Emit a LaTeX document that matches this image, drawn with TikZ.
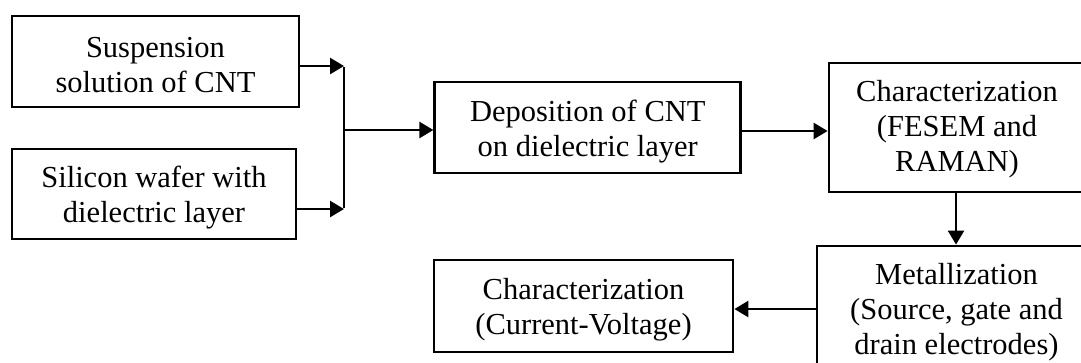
\documentclass[tikz,border=0pt]{standalone}
\usepackage{fontspec}
\setmainfont{Liberation Serif}
\usetikzlibrary{arrows.meta}
\begin{document}
\begin{tikzpicture}[x=1pt,y=-1pt,
  box/.style={draw, line width=2.8pt, inner sep=0pt},
  txt/.style={align=center, inner sep=0pt, yshift=-4pt,
    font=\fontsize{30.5}{35}\selectfont},
  conn/.style={line width=2.5pt, -{Triangle[length=14pt,width=16pt]}},
  plain/.style={line width=2.6pt}]
\useasboundingbox (0,0) rectangle (1081,362);
\clip (0,0) rectangle (1081,362);
\node[box, minimum width=287pt, minimum height=91pt,
  label={[txt]center:Suspension\\solution of CNT}] (susp) at (155.5,61.5) {};
\node[box, minimum width=284pt, minimum height=90pt,
  label={[txt]center:Silicon wafer with\\dielectric layer}] (wafer) at (154,194) {};
\node[box, minimum width=306pt, minimum height=91pt,
  label={[txt]center:Deposition of CNT\\on dielectric layer}] (dep) at (587.75,127.5) {};
\node[box, minimum width=256pt, minimum height=129pt,
  label={[txt,yshift=2pt]center:Characterization\\(FESEM and\\RAMAN)}] (char1) at (957,127.5) {};
\node[box, minimum width=279pt, minimum height=124pt,
  label={[txt]center:Metallization\\(Source, gate and\\drain electrodes)}] (metal) at (956.5,308) {};
\node[box, minimum width=299pt, minimum height=92pt,
  label={[txt]center:Characterization\\(Current-Voltage)}] (char2) at (583.5,306) {};
\coordinate (jtop) at (344,66);
\coordinate (jbot) at (344,209);
\coordinate (jmid) at (344,130);
\coordinate (dc) at (741,131);
\coordinate (vx) at (956,0);
\coordinate (hy) at (0,309);
\draw[conn] (susp.east |- jtop) -- (jtop);
\draw[conn] (wafer.east |- jbot) -- (jbot);
\draw[plain] ([yshift=-1.2pt]jtop) -- ([yshift=1.2pt]jbot);
\draw[conn] (jmid) -- (jmid -| dep.west);
\draw[conn] (dep.east |- dc) -- (dc -| char1.west);
\draw[conn] (vx |- char1.south) -- (vx |- metal.north);
\draw[conn] (metal.west |- hy) -- (char2.east |- hy);
\end{tikzpicture}
\end{document}
